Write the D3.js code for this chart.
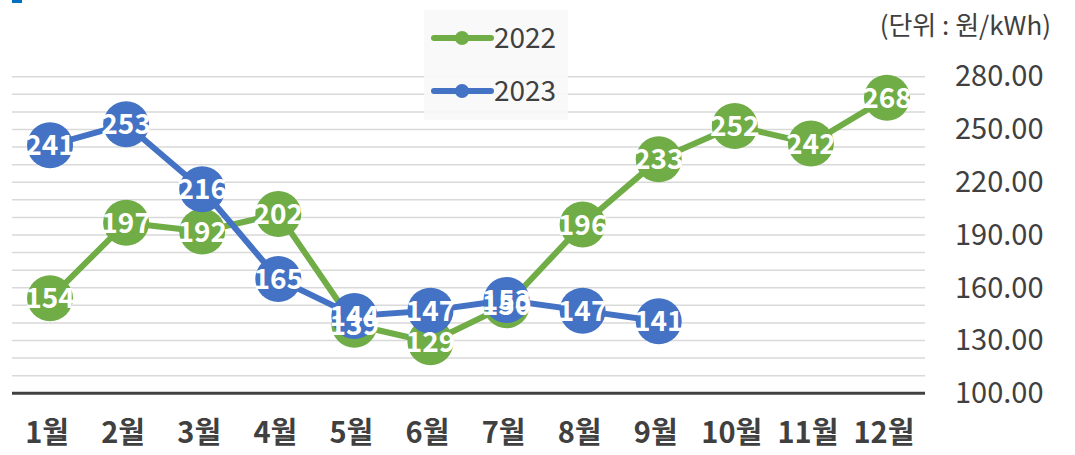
<!DOCTYPE html>
<html>
<head>
<meta charset="utf-8">
<script src="https://cdn.jsdelivr.net/npm/d3@7"></script>
<style>
  body { margin: 0; background: #fff; }
  svg { display: block; font-family: "Noto Sans CJK KR", "Noto Sans", sans-serif; }
</style>
</head>
<body>
<div id="chart"></div>
<script>
let w = 1075, h = 455;

// data
let months = ["1월", "2월", "3월", "4월", "5월", "6월", "7월", "8월", "9월", "10월", "11월", "12월"];
let values2022 = [154, 197, 192, 202, 139, 129, 150, 196, 233, 252, 242, 268];
let values2023 = [241, 253, 216, 165, 144, 147, 153, 147, 141];
let yTicks = [100, 130, 160, 190, 220, 250, 280];
let gridValues = d3.range(110, 281, 10);
let seriesNames = ["2022", "2023"];
let seriesColors = ["#70ad47", "#4472c4"];

let svg = d3.select("#chart").append("svg")
    .attr("width", w)
    .attr("height", h);

// small blue mark in the top left corner
svg.append("rect")
    .attr("x", 12).attr("y", 0)
    .attr("width", 10).attr("height", 3)
    .attr("fill", "#0070c0");

let xScale = d3.scaleBand().domain(months).range([12, 925]);
let yScale = d3.scaleLinear().domain([100, 280]).range([393.3, 76.7]);

function cx(d, i){
  return xScale(months[i]) + xScale.bandwidth() / 2;
}

// gridlines
svg.append("g").selectAll("line")
    .data(gridValues)
    .enter().append("line")
    .attr("x1", 12).attr("x2", 925)
    .attr("y1", d => yScale(d)).attr("y2", d => yScale(d))
    .attr("stroke", "#d9d9d9")
    .attr("stroke-width", 1.5);

// base line
svg.append("line")
    .attr("x1", 12).attr("x2", 925)
    .attr("y1", yScale(100)).attr("y2", yScale(100))
    .attr("stroke", "#404040")
    .attr("stroke-width", 3);

// y axis on the right
let yAxis = d3.axisRight(yScale).tickValues(yTicks).tickSize(0).tickPadding(0).tickFormat(d3.format(".2f"));
let yAxisGroup = svg.append("g").attr("transform", "translate(955,0)").call(yAxis);
yAxisGroup.select(".domain").remove();
yAxisGroup.selectAll("text")
    .attr("font-family", "'Noto Sans CJK KR', sans-serif")
    .attr("font-size", 29)
    .attr("fill", "#404040");

// x axis labels
let xAxis = d3.axisBottom(xScale).tickSize(0).tickPadding(0);
let xAxisGroup = svg.append("g").attr("transform", "translate(-3,422)").call(xAxis);
xAxisGroup.select(".domain").remove();
xAxisGroup.selectAll("text")
    .attr("font-family", "'Noto Sans CJK KR', sans-serif")
    .attr("font-size", 29)
    .attr("font-weight", "bold")
    .attr("fill", "#404040");

// unit label
svg.append("text")
    .attr("x", 1051).attr("y", 35)
    .attr("text-anchor", "end")
    .attr("font-size", 26)
    .attr("fill", "#404040")
    .text("(단위 : 원/kWh)");

// lines and markers
let line = d3.line()
    .x((d, i) => cx(d, i))
    .y(d => yScale(d));

let allSeries = [values2022, values2023];

allSeries.forEach((vals, k) => {
  let g = svg.append("g").attr("class", "series");
  g.append("path")
    .datum(vals)
    .attr("d", line)
    .attr("fill", "none")
    .attr("stroke", seriesColors[k])
    .attr("stroke-width", 6)
    .attr("stroke-linejoin", "round");
  g.selectAll("circle")
    .data(vals)
    .enter().append("circle")
    .attr("cx", cx)
    .attr("cy", d => yScale(d))
    .attr("r", 23)
    .attr("fill", seriesColors[k]);
});

// data labels on top of everything
allSeries.forEach((vals, k) => {
  svg.append("g").selectAll("text")
    .data(vals)
    .enter().append("text")
    .attr("x", cx)
    .attr("y", d => yScale(d))
    .attr("dy", "0.36em")
    .attr("text-anchor", "middle")
    .attr("font-size", 28)
    .attr("font-weight", "bold")
    .attr("fill", "#ffffff")
    .text(d => d);
});

// legend
let legend = svg.append("g");
legend.append("rect")
    .attr("x", 424).attr("y", 10)
    .attr("width", 144).attr("height", 110)
    .attr("fill", "#f8f8f8")
    .attr("opacity", 0.9);

let legendItems = legend.selectAll(".item")
    .data(seriesNames)
    .enter().append("g")
    .attr("class", "item")
    .attr("transform", (d, i) => "translate(0," + (38 + i * 53) + ")");

legendItems.append("line")
    .attr("x1", 434).attr("x2", 491)
    .attr("stroke", (d, i) => seriesColors[i])
    .attr("stroke-width", 6)
    .attr("stroke-linecap", "round");
legendItems.append("circle")
    .attr("cx", 462).attr("r", 7)
    .attr("fill", (d, i) => seriesColors[i]);
legendItems.append("text")
    .attr("x", 494)
    .attr("dy", "0.36em")
    .attr("font-size", 28)
    .attr("fill", "#404040")
    .text(d => d);
</script>
</body>
</html>
